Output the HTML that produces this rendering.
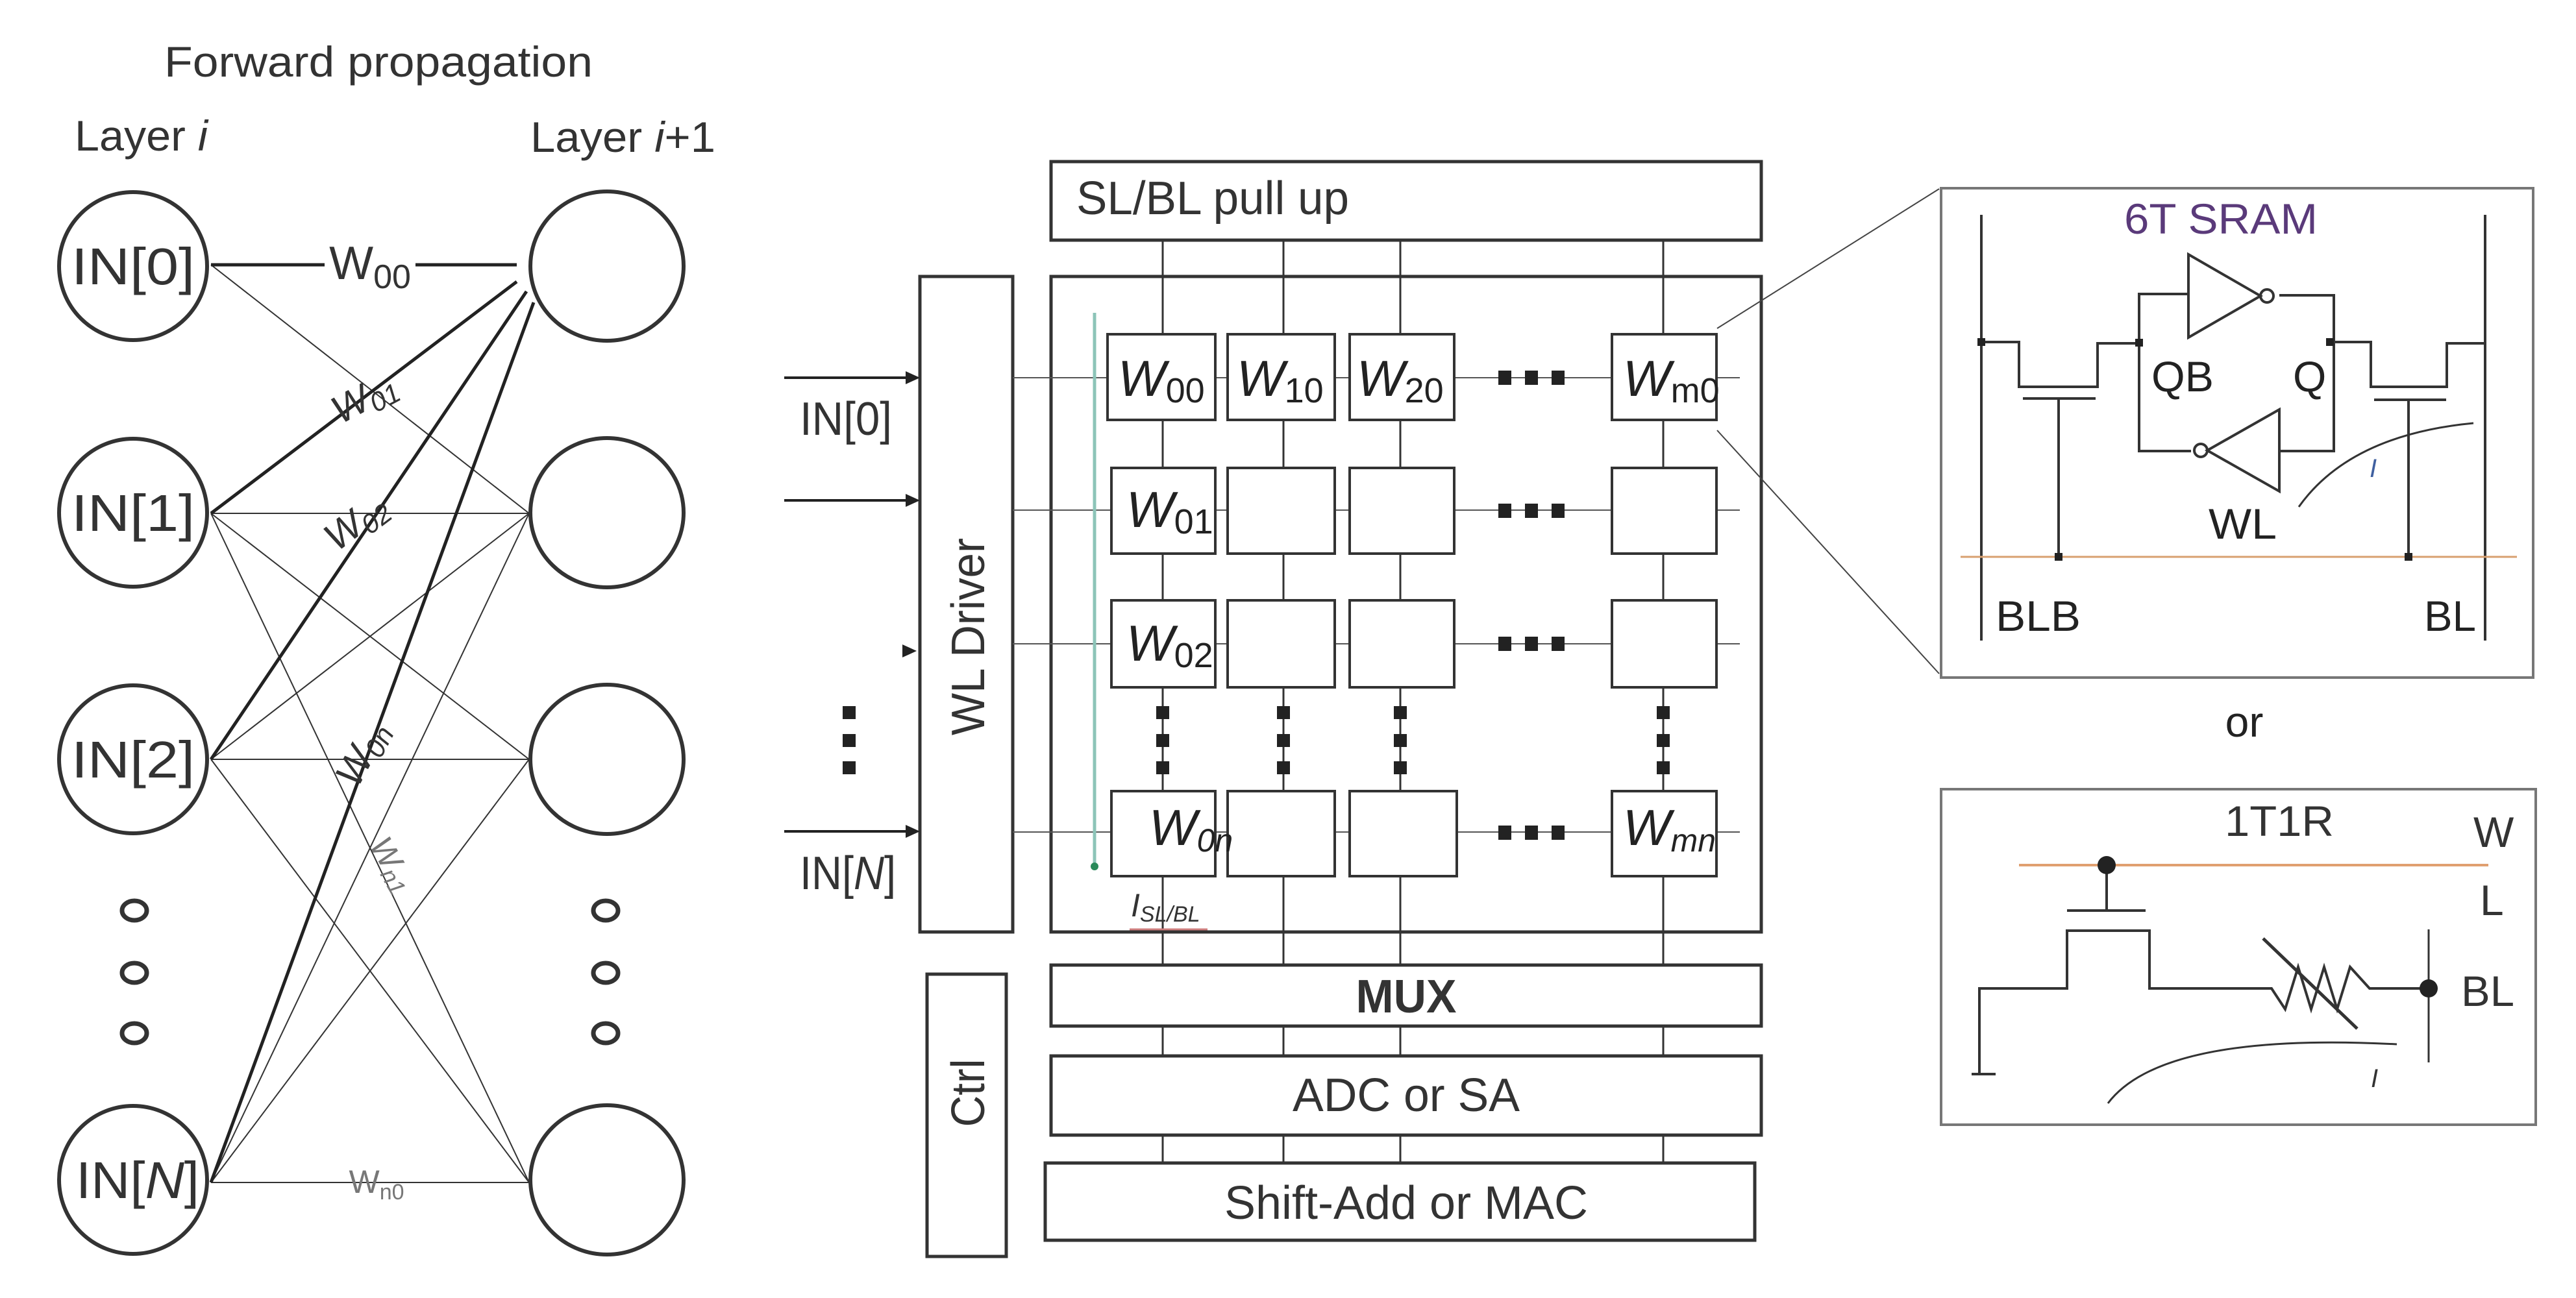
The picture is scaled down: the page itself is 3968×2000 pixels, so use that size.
<!DOCTYPE html>
<html><head><meta charset="utf-8"><style>
html,body{margin:0;padding:0;background:#fff;}
svg{display:block;font-family:"Liberation Sans",sans-serif;}
</style></head><body>
<svg width="3968" height="2000" viewBox="0 0 3968 2000" xmlns="http://www.w3.org/2000/svg">
<rect width="3968" height="2000" fill="#fff"/>
<!-- LEFT NETWORK -->
<g fill="#333">
<text x="583" y="118" font-size="66" text-anchor="middle" textLength="660" lengthAdjust="spacingAndGlyphs">Forward propagation</text>
<text x="115" y="232" font-size="66" textLength="205" lengthAdjust="spacingAndGlyphs">Layer <tspan font-style="italic">i</tspan></text>
<text x="817" y="234" font-size="66" textLength="285" lengthAdjust="spacingAndGlyphs">Layer <tspan font-style="italic">i</tspan>+1</text>
</g>
<g stroke="#333" stroke-width="2" fill="none">
<line x1="325" y1="408" x2="815" y2="791"/>
<line x1="325" y1="791" x2="815" y2="791"/>
<line x1="325" y1="791" x2="815" y2="1170"/>
<line x1="325" y1="791" x2="815" y2="1822"/>
<line x1="325" y1="1170" x2="815" y2="791"/>
<line x1="325" y1="1170" x2="815" y2="1170"/>
<line x1="325" y1="1170" x2="815" y2="1822"/>
<line x1="325" y1="1822" x2="815" y2="791"/>
<line x1="325" y1="1822" x2="815" y2="1170"/>
<line x1="325" y1="1822" x2="815" y2="1822"/>
</g>
<g stroke="#222" stroke-width="5" fill="none">
<line x1="325" y1="408" x2="500" y2="408"/><line x1="640" y1="408" x2="796" y2="408"/>
<line x1="325" y1="791" x2="796" y2="434"/>
<line x1="325" y1="1170" x2="811" y2="449"/>
<line x1="325" y1="1822" x2="822" y2="466"/>
</g>
<g fill="none" stroke="#333" stroke-width="6">
<ellipse cx="205" cy="410" rx="114" ry="114"/>
<ellipse cx="205" cy="790" rx="114" ry="114"/>
<ellipse cx="205" cy="1170" rx="114" ry="114"/>
<ellipse cx="205" cy="1818" rx="114" ry="114"/>
<ellipse cx="935" cy="410" rx="118" ry="115"/>
<ellipse cx="935" cy="790" rx="118" ry="115"/>
<ellipse cx="935" cy="1170" rx="118" ry="115"/>
<ellipse cx="935" cy="1818" rx="118" ry="115"/>
<g stroke-width="7">
<ellipse cx="207" cy="1403" rx="19" ry="15"/><ellipse cx="207" cy="1499" rx="19" ry="15"/><ellipse cx="207" cy="1592" rx="19" ry="15"/>
<ellipse cx="933" cy="1403" rx="19" ry="15"/><ellipse cx="933" cy="1499" rx="19" ry="15"/><ellipse cx="933" cy="1592" rx="19" ry="15"/>
</g>
</g>
<g fill="#333" font-size="80" text-anchor="middle">
<text x="205" y="438" textLength="190" lengthAdjust="spacingAndGlyphs">IN[0]</text>
<text x="205" y="818" textLength="190" lengthAdjust="spacingAndGlyphs">IN[1]</text>
<text x="205" y="1198" textLength="190" lengthAdjust="spacingAndGlyphs">IN[2]</text>
<text x="212" y="1846" textLength="190" lengthAdjust="spacingAndGlyphs">IN[<tspan font-style="italic">N</tspan>]</text>
<text x="570" y="430" font-size="72">W<tspan font-size="52" dy="14">00</tspan></text>
<text x="0" y="0" font-size="60" font-style="italic" transform="translate(570,630) rotate(-28)">W<tspan font-size="42" dy="10">01</tspan></text>
<text x="0" y="0" font-size="60" font-style="italic" transform="translate(560,820) rotate(-37)">W<tspan font-size="42" dy="10">02</tspan></text>
<text x="0" y="0" font-size="60" font-style="italic" transform="translate(575,1170) rotate(-62)">W<tspan font-size="42" dy="10">0n</tspan></text>
<text x="0" y="0" font-size="50" fill="#777" font-style="italic" transform="translate(590,1340) rotate(60)">W<tspan font-size="36" dy="8">n1</tspan></text>
<text x="580" y="1838" font-size="50" fill="#777">W<tspan font-size="34" dy="10">n0</tspan></text>
</g>

<!-- MIDDLE ARRAY -->
<g stroke="#333" stroke-width="5" fill="none">
<rect x="1619" y="249" width="1094" height="121"/>
<rect x="1619" y="426" width="1094" height="1010"/>
<rect x="1417" y="426" width="143" height="1010"/>
<rect x="1428" y="1501" width="122" height="435"/>
<rect x="1619" y="1487" width="1094" height="94"/>
<rect x="1619" y="1627" width="1094" height="122"/>
<rect x="1610" y="1792" width="1093" height="119"/>
</g>
<g stroke="#333" stroke-width="3">
<line x1="1791" y1="370" x2="1791" y2="1487"/><line x1="1977" y1="370" x2="1977" y2="1487"/>
<line x1="2157" y1="370" x2="2157" y2="1487"/><line x1="2562" y1="370" x2="2562" y2="1487"/>
<line x1="1791" y1="1581" x2="1791" y2="1627"/><line x1="1977" y1="1581" x2="1977" y2="1627"/>
<line x1="2157" y1="1581" x2="2157" y2="1627"/><line x1="2562" y1="1581" x2="2562" y2="1627"/>
<line x1="1791" y1="1749" x2="1791" y2="1792"/><line x1="1977" y1="1749" x2="1977" y2="1792"/>
<line x1="2157" y1="1749" x2="2157" y2="1792"/><line x1="2562" y1="1749" x2="2562" y2="1792"/>
</g>
<g stroke="#555" stroke-width="2">
<line x1="1560" y1="582" x2="2680" y2="582"/>
<line x1="1560" y1="786" x2="2680" y2="786"/>
<line x1="1560" y1="992" x2="2680" y2="992"/>
<line x1="1560" y1="1282" x2="2680" y2="1282"/>
</g>
<g stroke="#333" stroke-width="4" fill="#fff">
<rect x="1706" y="515" width="166" height="132"/><rect x="1891" y="515" width="165" height="132"/><rect x="2079" y="515" width="161" height="132"/><rect x="2483" y="515" width="161" height="132"/>
<rect x="1712" y="721" width="160" height="132"/><rect x="1891" y="721" width="165" height="132"/><rect x="2079" y="721" width="161" height="132"/><rect x="2483" y="721" width="161" height="132"/>
<rect x="1712" y="925" width="160" height="134"/><rect x="1891" y="925" width="165" height="134"/><rect x="2079" y="925" width="161" height="134"/><rect x="2483" y="925" width="161" height="134"/>
<rect x="1712" y="1219" width="160" height="131"/><rect x="1891" y="1219" width="165" height="131"/><rect x="2079" y="1219" width="165" height="131"/><rect x="2483" y="1219" width="161" height="131"/>
</g>
<g fill="#222">
<rect x="2308" y="571" width="20" height="22"/><rect x="2349" y="571" width="20" height="22"/><rect x="2390" y="571" width="20" height="22"/>
<rect x="2308" y="776" width="20" height="22"/><rect x="2349" y="776" width="20" height="22"/><rect x="2390" y="776" width="20" height="22"/>
<rect x="2308" y="981" width="20" height="22"/><rect x="2349" y="981" width="20" height="22"/><rect x="2390" y="981" width="20" height="22"/>
<rect x="2308" y="1272" width="20" height="22"/><rect x="2349" y="1272" width="20" height="22"/><rect x="2390" y="1272" width="20" height="22"/>
<rect x="1781" y="1088" width="20" height="20"/><rect x="1781" y="1131" width="20" height="20"/><rect x="1781" y="1173" width="20" height="20"/>
<rect x="1967" y="1088" width="20" height="20"/><rect x="1967" y="1131" width="20" height="20"/><rect x="1967" y="1173" width="20" height="20"/>
<rect x="2147" y="1088" width="20" height="20"/><rect x="2147" y="1131" width="20" height="20"/><rect x="2147" y="1173" width="20" height="20"/>
<rect x="2552" y="1088" width="20" height="20"/><rect x="2552" y="1131" width="20" height="20"/><rect x="2552" y="1173" width="20" height="20"/>
<rect x="1298" y="1088" width="20" height="20"/><rect x="1298" y="1131" width="20" height="20"/><rect x="1298" y="1173" width="20" height="20"/>
</g>
<g stroke="#222" stroke-width="4">
<line x1="1208" y1="582" x2="1400" y2="582"/>
<line x1="1208" y1="771" x2="1400" y2="771"/>
<line x1="1208" y1="1281" x2="1400" y2="1281"/>
</g>
<g fill="#222">
<path d="M1395 572 L1417 582 L1395 592Z"/><path d="M1395 761 L1417 771 L1395 781Z"/>
<path d="M1390 993 L1412 1003 L1390 1013Z"/><path d="M1395 1271 L1417 1281 L1395 1291Z"/>
</g>
<line x1="1686" y1="482" x2="1686" y2="1333" stroke="#8cc4b8" stroke-width="5"/>
<circle cx="1686" cy="1335" r="6" fill="#2a8a5a"/>
<line x1="1740" y1="1432" x2="1860" y2="1432" stroke="#d08080" stroke-width="3"/>
<g fill="#333" font-size="72">
<text x="1232" y="670" textLength="142" lengthAdjust="spacingAndGlyphs">IN[0]</text>
<text x="1232" y="1370" textLength="148" lengthAdjust="spacingAndGlyphs">IN[<tspan font-style="italic">N</tspan>]</text>
<text x="1742" y="1412" font-size="50" font-style="italic">I<tspan font-size="34" dy="8">SL/BL</tspan></text>
<text x="1868" y="330" text-anchor="middle" textLength="420" lengthAdjust="spacingAndGlyphs">SL/BL pull up</text>
<text x="2166" y="1560" text-anchor="middle" font-weight="bold" textLength="155" lengthAdjust="spacingAndGlyphs">MUX</text>
<text x="2166" y="1712" text-anchor="middle" textLength="350" lengthAdjust="spacingAndGlyphs">ADC or SA</text>
<text x="2166" y="1878" text-anchor="middle" textLength="560" lengthAdjust="spacingAndGlyphs">Shift-Add or MAC</text>
<text x="0" y="0" text-anchor="middle" transform="translate(1516,981) rotate(-90)" textLength="304" lengthAdjust="spacingAndGlyphs">WL Driver</text>
<text x="0" y="0" text-anchor="middle" transform="translate(1516,1684) rotate(-90)" textLength="105" lengthAdjust="spacingAndGlyphs">Ctrl</text>
</g>
<g fill="#222" font-size="78" font-style="italic">
<text x="1722" y="610">W<tspan font-size="54" dy="10" font-style="normal">00</tspan></text>
<text x="1905" y="610">W<tspan font-size="54" dy="10" font-style="normal">10</tspan></text>
<text x="2090" y="610">W<tspan font-size="54" dy="10" font-style="normal">20</tspan></text>
<text x="2500" y="610">W<tspan font-size="54" dy="10" font-style="normal">m0</tspan></text>
<text x="1735" y="812">W<tspan font-size="54" dy="10" font-style="normal">01</tspan></text>
<text x="1735" y="1018">W<tspan font-size="54" dy="10" font-style="normal">02</tspan></text>
<text x="1770" y="1302">W<tspan font-size="50" dy="10">0n</tspan></text>
<text x="2500" y="1302">W<tspan font-size="50" dy="10">mn</tspan></text>
</g>

<g stroke="#444" stroke-width="2">
<line x1="2645" y1="506" x2="2987" y2="291"/>
<line x1="2645" y1="663" x2="2987" y2="1038"/>
</g>

<rect x="2990" y="290" width="912" height="754" fill="none" stroke="#777" stroke-width="4"/>
<text x="3421" y="360" font-size="66" fill="#5a3a7a" text-anchor="middle" textLength="298" lengthAdjust="spacingAndGlyphs">6T SRAM</text>
<g stroke="#333" stroke-width="4" fill="none">
<line x1="3052" y1="331" x2="3052" y2="987"/>
<line x1="3828" y1="331" x2="3828" y2="987"/>
<polyline points="3052,527 3110,527 3110,596 3231,596 3231,529 3295,529"/>
<line x1="3116" y1="614" x2="3228" y2="614"/>
<line x1="3171" y1="614" x2="3171" y2="859"/>
<polyline points="3589,527 3652,527 3652,596 3769,596 3769,529 3828,529"/>
<line x1="3657" y1="616" x2="3768" y2="616"/>
<line x1="3710" y1="616" x2="3710" y2="859"/>
<polyline points="3371,453 3295,453 3295,695 3375,695"/>
<polyline points="3511,455 3595,455 3595,695 3511,695"/>
<path d="M3371 392 L3482 456 L3371 520Z"/>
<circle cx="3492" cy="456" r="10"/>
<path d="M3511 631 L3400 694 L3511 757Z"/>
<circle cx="3390" cy="694" r="10"/>
<path d="M3810 652 Q3620 670 3541 781" stroke-width="3"/>
</g>
<line x1="3020" y1="858" x2="3877" y2="858" stroke="#d8a070" stroke-width="3"/>
<g fill="#222"><rect x="3046" y="521" width="12" height="12"/><rect x="3289" y="522" width="12" height="12"/><rect x="3583" y="521" width="12" height="12"/><rect x="3165" y="852" width="12" height="12"/><rect x="3704" y="852" width="12" height="12"/></g>
<g fill="#222" font-size="66">
<text x="3314" y="603" textLength="96" lengthAdjust="spacingAndGlyphs">QB</text>
<text x="3532" y="603">Q</text>
<text x="3402" y="830" textLength="105" lengthAdjust="spacingAndGlyphs">WL</text>
<text x="3074" y="972" textLength="131" lengthAdjust="spacingAndGlyphs">BLB</text>
<text x="3734" y="972" textLength="80" lengthAdjust="spacingAndGlyphs">BL</text>
<text x="3650" y="735" font-size="40" fill="#4060a0" font-style="italic">I</text>
<text x="3457" y="1135" text-anchor="middle">or</text>
</g>

<rect x="2990" y="1216" width="916" height="517" fill="none" stroke="#777" stroke-width="4"/>
<line x1="3110" y1="1333" x2="3833" y2="1333" stroke="#e0a070" stroke-width="4"/>
<g stroke="#333" stroke-width="4" fill="none">
<line x1="3245" y1="1333" x2="3245" y2="1403"/>
<line x1="3184" y1="1403" x2="3305" y2="1403"/>
<polyline points="3049,1657 3049,1523 3184,1523 3184,1434 3311,1434 3311,1523 3499,1523 3520,1555 3540,1490 3560,1555 3580,1490 3600,1555 3620,1490 3650,1523 3741,1523"/>
<line x1="3037" y1="1655" x2="3074" y2="1655"/>
<line x1="3741" y1="1432" x2="3741" y2="1637" stroke-width="3"/>
<line x1="3486" y1="1446" x2="3631" y2="1585" stroke-width="5"/>
<path d="M3692 1609 Q3330 1590 3247 1700" stroke-width="3"/>
</g>
<circle cx="3245" cy="1333" r="14" fill="#222"/>
<circle cx="3741" cy="1523" r="14" fill="#222"/>
<g fill="#333" font-size="66">
<text x="3511" y="1288" text-anchor="middle" textLength="168" lengthAdjust="spacingAndGlyphs">1T1R</text>
<text x="3810" y="1305">W</text>
<text x="3820" y="1410">L</text>
<text x="3791" y="1550" textLength="82" lengthAdjust="spacingAndGlyphs">BL</text>
<text x="3652" y="1675" font-size="40" font-style="italic">I</text>
</g>
</svg>
</body></html>
